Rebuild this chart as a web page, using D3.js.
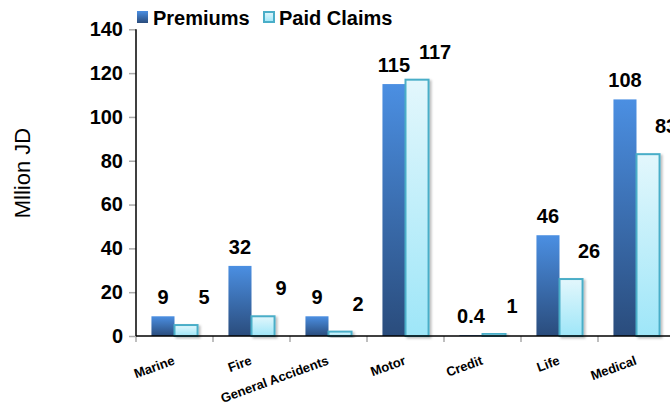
<!DOCTYPE html>
<html>
<head>
<meta charset="utf-8">
<script src="https://cdn.jsdelivr.net/npm/d3@7"></script>
<style>
  html, body { margin: 0; padding: 0; background: #fff; }
  svg { display: block; font-family: "Liberation Sans", Arial, Helvetica, sans-serif; }
</style>
</head>
<body>
<svg id="chart" width="670" height="413"></svg>
<script>
const categories = ["Marine", "Fire", "General Accidents", "Motor", "Credit", "Life", "Medical"];
const premiums = [9, 32, 9, 115, 0.4, 46, 108];
const paidClaims = [5, 9, 2, 117, 1, 26, 83];
const premiumLabels = ["9", "32", "9", "115", "0.4", "46", "108"];
const claimLabels = ["5", "9", "2", "117", "1", "26", "83"];
const seriesNames = ["Premiums", "Paid Claims"];
const yTicks = [0, 20, 40, 60, 80, 100, 120, 140];

(function () {
const svg = d3.select("#chart");
const W = 670, H = 413;
const mLeft = 136, mRight = 675, mTop = 29.3, mBottom = 336;

const defs = svg.append("defs");
const g1 = defs.append("linearGradient").attr("id", "gPrem").attr("x1", 0).attr("y1", 0).attr("x2", 0).attr("y2", 1);
g1.append("stop").attr("offset", "0%").attr("stop-color", "#4b8fe2");
g1.append("stop").attr("offset", "100%").attr("stop-color", "#2a4c7c");
const g2 = defs.append("linearGradient").attr("id", "gClaim").attr("x1", 0).attr("y1", 0).attr("x2", 0).attr("y2", 1);
g2.append("stop").attr("offset", "0%").attr("stop-color", "#e3f7fc");
g2.append("stop").attr("offset", "100%").attr("stop-color", "#9ee6f8");
const sh = defs.append("filter").attr("id", "shadow").attr("x", "-20%").attr("y", "-20%").attr("width", "150%").attr("height", "150%");
sh.append("feDropShadow").attr("dx", 2).attr("dy", 1.5).attr("stdDeviation", 1.2).attr("flood-color", "#000").attr("flood-opacity", 0.25);

const x0 = d3.scaleBand().domain(categories).range([mLeft, mRight]).paddingInner(0).paddingOuter(0);
const x1 = d3.scaleBand().domain([0, 1]).range([0, x0.bandwidth()]).paddingInner(0).paddingOuter(0.67);
const y = d3.scaleLinear().domain([0, 140]).range([mBottom, mTop]);

// Y axis
const yAxis = svg.append("g").attr("transform", `translate(${mLeft},0)`)
  .call(d3.axisLeft(y).tickValues(yTicks).tickSize(7).tickPadding(6));
yAxis.select(".domain").remove();
yAxis.selectAll(".tick line").attr("stroke", "#aaa").attr("stroke-width", 1.5);
yAxis.selectAll(".tick text").attr("font-size", 20).attr("font-weight", "bold").attr("fill", "#000")
  .attr("font-family", "Liberation Sans, Arial, sans-serif");

// X axis ticks
const xTickPos = categories.map(c => x0(c)).concat([mRight]);
svg.append("g").selectAll("line").data(xTickPos).join("line")
  .attr("x1", d => d).attr("x2", d => d).attr("y1", mBottom).attr("y2", mBottom + 6)
  .attr("stroke", "#aaa").attr("stroke-width", 1.5);

// Bars
const groups = svg.append("g").selectAll("g").data(categories).join("g")
  .attr("transform", d => `translate(${x0(d)},0)`);

groups.append("rect")
  .attr("x", x1(0)).attr("width", x1.bandwidth())
  .attr("y", (d, i) => y(premiums[i])).attr("height", (d, i) => mBottom - y(premiums[i]))
  .attr("fill", "url(#gPrem)");

groups.append("rect")
  .attr("x", x1(1)).attr("width", x1.bandwidth())
  .attr("y", (d, i) => y(paidClaims[i])).attr("height", (d, i) => mBottom - y(paidClaims[i]))
  .attr("fill", "url(#gClaim)").attr("stroke", "#4aaec8").attr("stroke-width", 2)
  .attr("filter", "url(#shadow)");

// Axes lines
svg.append("line").attr("x1", mLeft).attr("x2", mLeft).attr("y1", mTop).attr("y2", mBottom)
  .attr("stroke", "#000").attr("stroke-width", 1.5);
svg.append("line").attr("x1", mLeft).attr("x2", W).attr("y1", mBottom).attr("y2", mBottom)
  .attr("stroke", "#000").attr("stroke-width", 1.5);

// Value labels
groups.append("text")
  .attr("x", x1(0) + x1.bandwidth() / 2)
  .attr("y", (d, i) => y(premiums[i]) - 12)
  .attr("text-anchor", "middle").attr("font-size", 20).attr("font-weight", "bold")
  .text((d, i) => premiumLabels[i]);
groups.append("text")
  .attr("x", x1(1) + x1.bandwidth() / 2 + 18)
  .attr("y", (d, i) => y(paidClaims[i]) - 21)
  .attr("text-anchor", "middle").attr("font-size", 20).attr("font-weight", "bold")
  .text((d, i) => claimLabels[i]);

// X category labels
svg.append("g").selectAll("text").data(categories).join("text")
  .attr("transform", d => `translate(${x0(d) + x0.bandwidth() / 2 + 1},${mBottom + 28}) rotate(-20)`)
  .attr("text-anchor", "end").attr("font-size", 13).attr("font-weight", "bold")
  .text(d => d);

// Y title
svg.append("text").attr("transform", `translate(30,173) rotate(-90)`)
  .attr("text-anchor", "middle").attr("font-size", 22).attr("fill", "#000")
  .text("Mllion JD");

// Legend
const legendX = [137, 263];
const leg = svg.append("g").selectAll("g").data(seriesNames).join("g")
  .attr("transform", (d, i) => `translate(${legendX[i]},11)`);
leg.append("rect").attr("x", (d, i) => i ? 1 : 0).attr("y", (d, i) => i ? 1 : 0)
  .attr("width", (d, i) => i ? 10 : 11).attr("height", (d, i) => i ? 10 : 12)
  .attr("fill", (d, i) => i ? "url(#gClaim)" : "url(#gPrem)")
  .attr("stroke", (d, i) => i ? "#4aaec8" : "none").attr("stroke-width", 2);
leg.append("text").attr("x", 16).attr("y", 13.5)
  .attr("font-size", 20).attr("font-weight", "bold").text(d => d);
})();
</script>
</body>
</html>
